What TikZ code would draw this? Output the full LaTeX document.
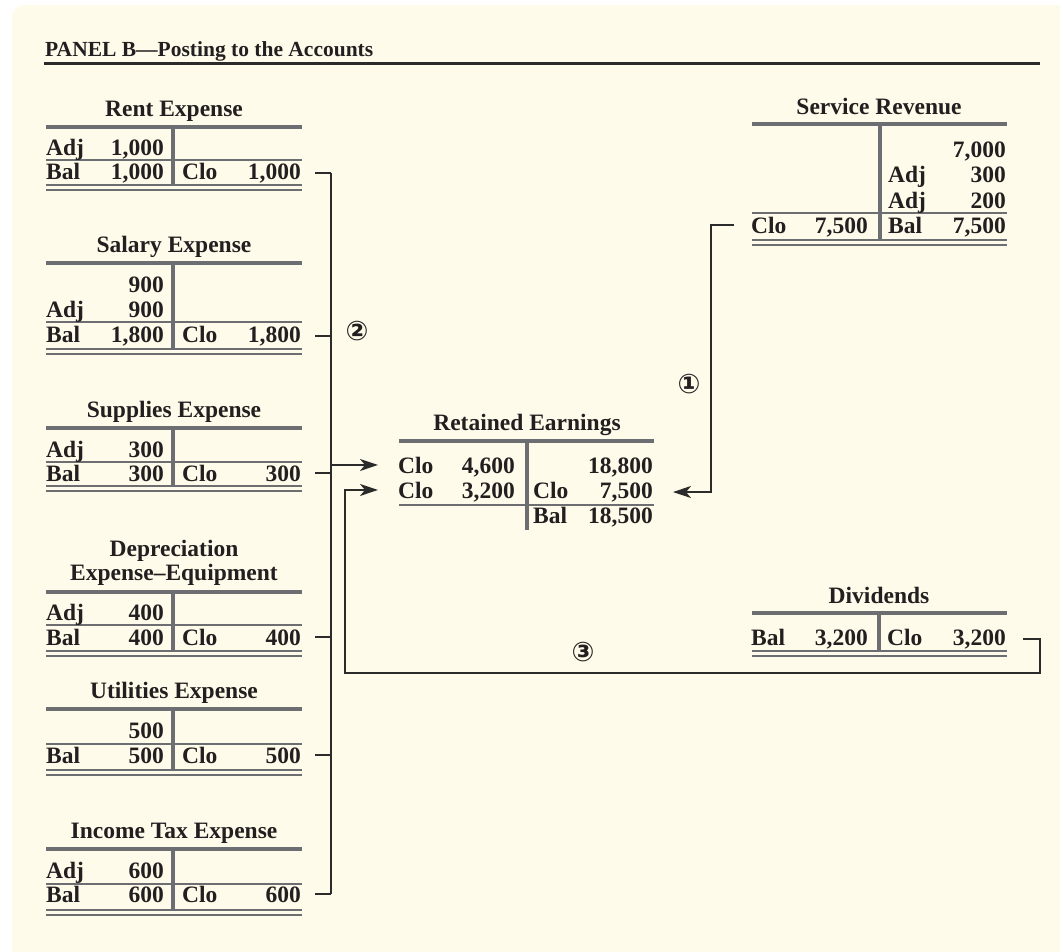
\documentclass[tikz,border=0pt]{standalone}
\usepackage{fontspec}
\setmainfont{Liberation Serif}
\newfontfamily\circfont{DejaVu Sans}
\usetikzlibrary{arrows.meta}
\definecolor{bgcream}{HTML}{FFFBEA}
\definecolor{tgray}{HTML}{6D6E71}
\definecolor{ink}{HTML}{231F20}
\definecolor{cline}{HTML}{2B2B2B}
\newcommand\acctfont{\fontsize{23.5}{27}\selectfont\bfseries}
\newcommand\hdrfont{\fontsize{21.5}{24}\selectfont\bfseries}
\tikzset{
  lbl/.style={anchor=base west, inner sep=0pt, font=\acctfont, text=ink},
  num/.style={anchor=base east, inner sep=0pt, font=\acctfont, text=ink},
  ttl/.style={anchor=base, inner sep=0pt, font=\acctfont, text=ink},
  trule/.style={line width=3.2pt, draw=tgray},
  tthin/.style={line width=1.7pt, draw=tgray},
  tdbl/.style={line width=2pt, draw=tgray},
  conn/.style={line width=1.7pt, draw=cline},
  arr/.style={conn, -{Stealth[length=18pt,width=12pt,inset=5pt]}},
  circ/.style={inner sep=0pt, font=\circfont\bfseries\fontsize{27}{27}\selectfont, text=ink},
  hrule/.style={line width=2.2pt, draw=cline}
}
\begin{document}
\begin{tikzpicture}[x=1pt,y=-1pt]
\useasboundingbox (0,0) rectangle (1060,951);
\fill[white] (0,0) rectangle (1060,951);
\begin{scope}
\clip (0,0) rectangle (1060,951);
\fill[bgcream, rounded corners=12pt] (12,5) rectangle (1100,1000);
\end{scope}

% header
\node[anchor=base west, inner sep=0pt, font=\hdrfont, text=ink] (hdr) at (45,56) {PANEL B—Posting to the Accounts};
\draw[hrule] (44,63.5) -- (1040,63.5);

% ---------- Rent Expense ----------
\node[ttl] (rent-t) at (174,116) {Rent Expense};
\draw[trule] (46,127) -- (302,127);
\draw[trule] (173,127) -- (173,185);
\draw[tthin] (46,160) -- (302,160);
\draw[tdbl] (46,185) -- (302,185);
\draw[tdbl] (46,190) -- (302,190);
\node[lbl] (rent-a) at (46,155) {Adj};
\node[num] (rent-an) at (164,155) {1,000};
\node[lbl] (rent-b) at (46,179) {Bal};
\node[num] (rent-bn) at (164,179) {1,000};
\node[lbl] (rent-c) at (182,179) {Clo};
\node[num] (rent-cn) at (301,179) {1,000};

% ---------- Salary Expense ----------
\node[ttl] (sal-t) at (174,252) {Salary Expense};
\draw[trule] (46,263) -- (302,263);
\draw[trule] (173,263) -- (173,349);
\draw[tthin] (46,322) -- (302,322);
\draw[tdbl] (46,349) -- (302,349);
\draw[tdbl] (46,354) -- (302,354);
\node[num] (sal-1n) at (164,292) {900};
\node[lbl] (sal-a) at (46,317) {Adj};
\node[num] (sal-an) at (164,317) {900};
\node[lbl] (sal-b) at (46,342) {Bal};
\node[num] (sal-bn) at (164,342) {1,800};
\node[lbl] (sal-c) at (182,342) {Clo};
\node[num] (sal-cn) at (301,342) {1,800};

% ---------- Supplies Expense ----------
\node[ttl] (sup-t) at (174,417) {Supplies Expense};
\draw[trule] (46,428) -- (302,428);
\draw[trule] (173,428) -- (173,486);
\draw[tthin] (46,462) -- (302,462);
\draw[tdbl] (46,486) -- (302,486);
\draw[tdbl] (46,491) -- (302,491);
\node[lbl] (sup-a) at (46,457) {Adj};
\node[num] (sup-an) at (164,457) {300};
\node[lbl] (sup-b) at (46,481) {Bal};
\node[num] (sup-bn) at (164,481) {300};
\node[lbl] (sup-c) at (182,481) {Clo};
\node[num] (sup-cn) at (301,481) {300};

% ---------- Depreciation Expense-Equipment ----------
\node[ttl] (dep-t1) at (174,556) {Depreciation};
\node[ttl] (dep-t2) at (174,580) {Expense–Equipment};
\draw[trule] (46,592) -- (302,592);
\draw[trule] (173,592) -- (173,651);
\draw[tthin] (46,625) -- (302,625);
\draw[tdbl] (46,651) -- (302,651);
\draw[tdbl] (46,656) -- (302,656);
\node[lbl] (dep-a) at (46,620) {Adj};
\node[num] (dep-an) at (164,620) {400};
\node[lbl] (dep-b) at (46,645) {Bal};
\node[num] (dep-bn) at (164,645) {400};
\node[lbl] (dep-c) at (182,645) {Clo};
\node[num] (dep-cn) at (301,645) {400};

% ---------- Utilities Expense ----------
\node[ttl] (util-t) at (174,698) {Utilities Expense};
\draw[trule] (46,709) -- (302,709);
\draw[trule] (173,709) -- (173,770);
\draw[tthin] (46,744) -- (302,744);
\draw[tdbl] (46,770) -- (302,770);
\draw[tdbl] (46,775) -- (302,775);
\node[num] (util-1n) at (164,738) {500};
\node[lbl] (util-b) at (46,763) {Bal};
\node[num] (util-bn) at (164,763) {500};
\node[lbl] (util-c) at (182,763) {Clo};
\node[num] (util-cn) at (301,763) {500};

% ---------- Income Tax Expense ----------
\node[ttl] (tax-t) at (174,838) {Income Tax Expense};
\draw[trule] (46,849) -- (302,849);
\draw[trule] (173,849) -- (173,910);
\draw[tthin] (46,884) -- (302,884);
\draw[tdbl] (46,910) -- (302,910);
\draw[tdbl] (46,915) -- (302,915);
\node[lbl] (tax-a) at (46,878) {Adj};
\node[num] (tax-an) at (164,878) {600};
\node[lbl] (tax-b) at (46,902) {Bal};
\node[num] (tax-bn) at (164,902) {600};
\node[lbl] (tax-c) at (182,902) {Clo};
\node[num] (tax-cn) at (301,902) {600};

% ---------- Service Revenue ----------
\node[ttl] (svc-t) at (879,114) {Service Revenue};
\draw[trule] (752,124) -- (1007,124);
\draw[trule] (880,124) -- (880,240);
\draw[tthin] (752,213) -- (1007,213);
\draw[tdbl] (752,240) -- (1007,240);
\draw[tdbl] (752,245) -- (1007,245);
\node[num] (svc-1n) at (1006,157) {7,000};
\node[lbl] (svc-2) at (888,182) {Adj};
\node[num] (svc-2n) at (1006,182) {300};
\node[lbl] (svc-3) at (888,208) {Adj};
\node[num] (svc-3n) at (1006,208) {200};
\node[lbl] (svc-c) at (751,233) {Clo};
\node[num] (svc-cn) at (868,233) {7,500};
\node[lbl] (svc-b) at (888,233) {Bal};
\node[num] (svc-bn) at (1006,233) {7,500};

% ---------- Retained Earnings ----------
\node[ttl] (re-t) at (527,430) {Retained Earnings};
\draw[trule] (399,441) -- (654,441);
\draw[trule] (527,441) -- (527,530);
\draw[tthin] (399,505) -- (654,505);
\node[lbl] (re-c1) at (398,473) {Clo};
\node[num] (re-c1n) at (515,473) {4,600};
\node[num] (re-r1n) at (653,473) {18,800};
\node[lbl] (re-c2) at (398,498) {Clo};
\node[num] (re-c2n) at (515,498) {3,200};
\node[lbl] (re-r2) at (533,498) {Clo};
\node[num] (re-r2n) at (653,498) {7,500};
\node[lbl] (re-b) at (533,523) {Bal};
\node[num] (re-bn) at (653,523) {18,500};

% ---------- Dividends ----------
\node[ttl] (div-t) at (879,603) {Dividends};
\draw[trule] (752,613) -- (1007,613);
\draw[trule] (879,613) -- (879,651);
\draw[tdbl] (752,651) -- (1007,651);
\draw[tdbl] (752,656) -- (1007,656);
\node[lbl] (div-b) at (751,645) {Bal};
\node[num] (div-bn) at (868,645) {3,200};
\node[lbl] (div-c) at (887,645) {Clo};
\node[num] (div-cn) at (1006,645) {3,200};

% ---------- connectors ----------
\coordinate (busx) at (331,0);
\coordinate (svcx) at (711,0);
\coordinate (divr) at (1040,673);
\coordinate (divl) at (345,673);

\draw[conn] ([xshift=14pt]rent-cn.east) -- (rent-cn.east -| busx);
\draw[conn] ([xshift=14pt]sal-cn.east) -- (sal-cn.east -| busx);
\draw[conn] ([xshift=14pt]sup-cn.east) -- (sup-cn.east -| busx);
\draw[conn] ([xshift=14pt]dep-cn.east) -- (dep-cn.east -| busx);
\draw[conn] ([xshift=14pt]util-cn.east) -- (util-cn.east -| busx);
\draw[conn] ([xshift=14pt]tax-cn.east) -- (tax-cn.east -| busx);
\draw[conn] (rent-cn.east -| busx) -- (tax-cn.east -| busx);

\draw[arr] (busx |- re-c1.west) -- ([xshift=-20pt]re-c1.west);
\draw[arr] ([xshift=17pt]div-cn.east) -| (divr) -- (divl) |- ([xshift=-20pt]re-c2.west);
\draw[arr] ([xshift=-17pt]svc-c.west) -| (svcx |- re-r2n.east) -- ([xshift=20pt]re-r2n.east);

% circled step numbers
\node[circ] (step2) at (357,331) {②};
\node[circ] (step1) at (689,384) {①};
\node[circ] (step3) at (583,652) {③};
\end{tikzpicture}
\end{document}
